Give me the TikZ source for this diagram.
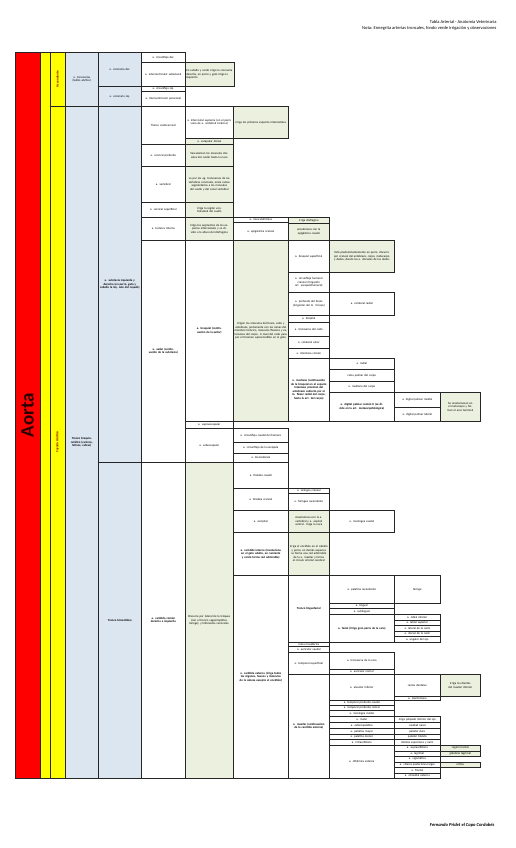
\documentclass[tikz,border=0pt]{standalone}
\usepackage{fontspec}
\setmainfont{Carlito}
\definecolor{azul}{HTML}{DCE6F1}
\definecolor{verde}{HTML}{EBF1DE}
\definecolor{rojo}{HTML}{FF0000}
\definecolor{amarillo}{HTML}{FFFF00}
\newcommand{\celda}[7]{%
  \pgfmathsetmacro{\anchotexto}{#4-2}%
  \node[#6, minimum width=#4pt, minimum height=#5pt, text width=\anchotexto pt, anchor=north west] (#1) at (#2,#3) {#7};}
\begin{document}
\begin{tikzpicture}[x=1pt,y=-1pt,
  caja/.style={draw=black!85, line width=0.6pt, inner xsep=0.5pt, inner ysep=0.2pt, align=center, font=\fontsize{3}{3.5}\selectfont},
  celdablanca/.style={caja, fill=white},
  celdaazul/.style={caja, fill=azul},
  celdaverde/.style={caja, fill=verde},
  tronco/.style={font=\fontsize{3}{3.5}\selectfont\bfseries},
  rotulo/.style={rotate=90, font=\fontsize{3.4}{4}\selectfont\bfseries, text=red!55!black}]
\useasboundingbox (0,0) rectangle (515,848);
\fill[white] (0,0) rectangle (515,848);

\node[anchor=east, font=\fontsize{4.5}{5}\selectfont] (titulo) at (500,21.7) {Tabla Arterial - Anatomía Veterinaria};
\node[anchor=east, font=\fontsize{4.5}{5}\selectfont] (nota) at (500,28.3) {Nota: Ennegrita arterias troncales, fondo verde irrigación y observaciones};

\filldraw[fill=rojo, draw=black!85, line width=0.6pt] (15,52) rectangle (40,778);
\filldraw[fill=amarillo, draw=black!85, line width=0.6pt] (40,52) rectangle (50,778);
\filldraw[fill=amarillo, draw=black!85, line width=0.6pt] (50,52) rectangle (65,106);
\filldraw[fill=amarillo, draw=black!85, line width=0.6pt] (50,106) rectangle (65,778);
\node[rotate=90, font=\fontsize{19}{20}\selectfont\bfseries, text=black!85!red] (aorta) at (27.5,415) {Aorta};
\node[rotulo] (ascendente) at (57.5,79) {Ascendente};
\node[rotulo] (cayado) at (57.5,442) {Cayado Aórtico};

% Aorta ascendente
\celda{coronarias}{65}{52}{33}{54}{celdaazul}{a. Coronarias (bulbo aórtico)}
\celda{corder}{98}{52}{43}{34}{celdaazul}{a. coronaria der.}
\celda{corizq}{98}{86}{43}{20}{celdaazul}{a. coronaria izq.}
\celda{circder}{141}{52}{44}{10}{celdablanca}{a. circunfleja der.}
\celda{subsinusal}{141}{62}{44}{24}{celdablanca}{a. interventricular subsinusal}
\celda{circizq}{141}{86}{44}{5}{celdablanca}{a. circunfleja izq.}
\celda{paraconal}{141}{91}{44}{15}{celdablanca}{a. interventricular paraconal}
\celda{irrcor}{185}{62}{49}{24}{celdaverde,align=left}{En caballo y cerdo irriga la coronaria derecha, en perro y gato irriga la izquierda}

% Cayado aortico
\celda{braquiocef}{65}{106}{33}{672}{celdaazul,tronco}{Tronco braquiocefálico (caninos, felinos, cabras)}
\celda{subclavia}{98}{106}{43}{356}{celdaazul,tronco}{a. subclavia izquierda y derecha (en perro, gato y caballo la izq. sale del cayado)}
\celda{bicarotideo}{98}{462}{43}{316}{celdaazul,tronco}{Tronco bicarotídeo}

\celda{costocervical}{141}{106}{44}{38}{celdablanca}{Tronco costocervical}
\celda{intsuprema}{185}{106}{48}{32}{celdablanca}{a. intercostal suprema (en el perro varía de a. vertebral torácica)}
\celda{irrintsup}{233}{106}{55}{32}{celdaverde}{irriga los primeros espacios intercostales}
\celda{escdorsal}{185}{138}{48}{6}{celdaverde}{a. escapular dorsal}
\celda{cervprof}{141}{144}{44}{22}{celdablanca}{a. cervical profunda}
\celda{irrcervprof}{185}{144}{48}{22}{celdaverde}{Vascularizan los músculos dorsales del cuello hasta la nuca}
\celda{vertebral}{141}{166}{44}{36}{celdablanca}{a. vertebral}
\celda{irrvertebral}{185}{166}{48}{36}{celdaverde}{va por los ag. transversos de las vértebras cervicales, envía ramas segmentarias a los músculos del cuello y del canal vertebral}
\celda{cervsup}{141}{202}{44}{15}{celdablanca}{a. cervical superficial}
\celda{irrcervsup}{185}{202}{48}{15}{celdaverde}{irriga la región ventrolateral del cuello}
\celda{torinterna}{141}{217}{44}{23}{celdablanca}{a. torácica interna}
\celda{irrtorint}{185}{217}{48}{23}{celdaverde}{irriga los segmentos de los espacios intercostales y se divide a la altura del diafragma}
\celda{musculofren}{233}{217}{55}{5}{celdablanca}{a. musculofrénica}
\celda{irrmusculofren}{288}{217}{41}{6}{celdaverde}{irriga diafragma}
\celda{epigcraneal}{233}{222}{55}{18}{celdablanca}{a. epigástrica craneal}
\celda{irrepig}{288}{223}{41}{17}{celdaverde}{anastomosa con la epigástrica caudal}

\celda{axilar}{141}{240}{44}{222}{celdablanca,tronco}{a. axilar (continuación de la subclavia)}
\celda{braquial}{185}{240}{48}{181}{celdablanca,tronco}{a. braquial (continuación de la axilar)}
\celda{irrbraquial}{233}{240}{55}{181}{celdaverde}{Irrigan los músculos del brazo, codo y antebrazo, juntamente con las ramas del miembro torácico, músculos flexores y extensores del carpo. A nivel del codo pasa por el foramen supracondíleo en el gato.}
\celda{braqsup}{288}{240}{41}{32}{celdablanca}{a. braquial superficial}
\celda{irrbraqsup}{329}{240}{65}{32}{celdaverde}{Está predominantemente en perro, discurre por craneal del antebrazo, carpo, metacarpo y dedos, dando las a. dorsales de los dedos}
\celda{circhumcr}{288}{272}{41}{20}{celdablanca}{a. circunfleja humeral craneal (irrigación art. escapulohumeral)}
\celda{profbrazo}{288}{292}{41}{23}{celdablanca}{a. profunda del brazo (irrigación del m. tríceps)}
\celda{colradial}{329}{292}{65}{23}{celdablanca}{a. colateral radial}
\celda{bicipital}{288}{315}{41}{7}{celdablanca}{a. bicipital}
\celda{transvcodo}{288}{322}{41}{14}{celdablanca}{a. transversa del codo}
\celda{colulnar}{288}{336}{41}{12}{celdablanca}{a. colateral ulnar}
\celda{interosea}{288}{348}{41}{10}{celdablanca}{a. interósea común}
\celda{mediana}{288}{358}{41}{63}{celdablanca,tronco}{a. mediana (continuación de la braquial en el espacio interóseo proximal del antebrazo cubierto por el m. flexor radial del carpo, hasta la art. del carpo)}
\celda{radial}{329}{358}{65}{11}{celdablanca}{a. radial}
\celda{palmarcarpo}{329}{369}{65}{12}{celdablanca}{rama palmar del carpo}
\celda{medcarpo}{329}{381}{65}{11}{celdablanca}{a. mediana del carpo}
\celda{digcomun}{329}{392}{65}{29}{celdablanca,tronco}{a. digital palmar común II (se divide en la art. metacarpofalángica)}
\celda{digmedial}{394}{392}{46}{15}{celdablanca}{a. digital palmar medial}
\celda{diglateral}{394}{407}{46}{14}{celdablanca}{a. digital palmar lateral}
\celda{arco}{440}{392}{40}{29}{celdaverde}{Se anastomosan en el metacarpo y forman el arco terminal}
\celda{supraesc}{185}{421}{48}{7}{celdablanca}{a. supraescapular}
\celda{subesc}{185}{428}{48}{34}{celdablanca}{a. subescapular}
\celda{circhumcd}{233}{428}{55}{14}{celdablanca}{a. circunfleja caudal del húmero}
\celda{circesc}{233}{442}{55}{11}{celdablanca}{a. circunfleja de la escápula}
\celda{toracodorsal}{233}{453}{55}{9}{celdablanca}{a. toracodorsal}

\celda{carcomun}{141}{462}{44}{316}{celdablanca,tronco}{a. carótida común derecha e izquierda}
\celda{irrcarcomun}{185}{462}{48}{316}{celdaverde}{Discurre por lateral de la tráquea (con el tronco vagosimpático, laringe), y linfonodos cervicales.}
\celda{tirocaudal}{233}{462}{55}{26}{celdablanca}{a. tiroidea caudal}
\celda{tirocraneal}{233}{488}{55}{22}{celdablanca}{a. tiroidea craneal}
\celda{laringea}{288}{488}{41}{5}{celdablanca}{a. laríngea craneal}
\celda{faringea}{288}{493}{41}{17}{celdablanca}{a. faríngea ascendente}
\celda{occipital}{233}{510}{55}{22}{celdablanca}{a. occipital}
\celda{irroccipital}{288}{510}{41}{22}{celdaverde}{Anastomosa con la a. vertebral y a. espinal ventral. Irriga la nuca}
\celda{meningcaudal}{329}{510}{65}{22}{celdablanca}{a. meníngea caudal}
\celda{carinterna}{233}{532}{55}{43}{celdablanca,tronco}{a. carótida interna (involuciona en el gato adulto, en rumiante y cerdo forma red admirable)}
\celda{irrcarinterna}{288}{532}{41}{43}{celdaverde}{Irriga el encéfalo en el caballo y perro, en demás especies se forma una red admirable de la a. maxilar y forma el círculo arterial cerebral}
\celda{carexterna}{233}{575}{55}{203}{celdablanca,tronco}{a. carótida externa (irriga todos los órganos, huesos y músculos de la cabeza excepto el encéfalo)}

\celda{linguofacial}{288}{575}{41}{67}{celdablanca,tronco}{Tronco linguofacial}
\celda{palatasc}{329}{575}{65}{28}{celdablanca}{a. palatina ascendente}
\celda{faringe}{394}{575}{46}{28}{celdablanca}{faringe}
\celda{lingual}{329}{603}{65}{5}{celdablanca}{a. lingual}
\celda{sublingual}{329}{608}{65}{6}{celdablanca}{a. sublingual}
\celda{facial}{329}{614}{65}{28}{celdablanca,tronco}{a. facial (irriga gran parte de la cara)}
\celda{labinf}{394}{614}{46}{5.6}{celdablanca}{a. labial inferior}
\celda{labsup}{394}{619.6}{46}{5.6}{celdablanca}{a. labial superior}
\celda{latnariz}{394}{625.2}{46}{5.6}{celdablanca}{a. lateral de la nariz}
\celda{dornariz}{394}{630.8}{46}{5.6}{celdablanca}{a. dorsal de la nariz}
\celda{angojo}{394}{636.4}{46}{5.6}{celdablanca}{a. angular del ojo}
\celda{maseterica}{288}{642}{41}{4}{celdablanca}{rama masetérica}
\celda{auricaudal}{288}{646}{41}{6}{celdablanca}{a. auricular caudal}
\celda{tempsup}{288}{652}{41}{22}{celdablanca}{a. temporal superficial}
\celda{transvcara}{329}{652}{65}{17}{celdablanca}{a. transversa de la cara}
\celda{aurirostral}{329}{669}{65}{5}{celdablanca}{a. auricular rostral}

\celda{maxilar}{288}{674}{41}{104}{celdablanca,tronco}{a. maxilar (continuación de la carótida externa)}
\celda{alvinf}{329}{674}{65}{26}{celdablanca}{a. alveolar inferior}
\celda{dentales}{394}{674}{46}{22}{celdablanca}{ramos dentales}
\celda{irrdentales}{440}{674}{40}{22}{celdaverde}{Irriga los dientes del maxilar inferior}
\celda{mentoniana}{394}{696}{46}{4}{celdablanca}{a. mentoniana}
\celda{tempcaudal}{329}{700}{65}{5}{celdablanca}{a. temporal profunda caudal}
\celda{temprostral}{329}{705}{65}{5}{celdablanca}{a. temporal profunda rostral}
\celda{meningmedia}{329}{710}{65}{6}{celdablanca}{a. meníngea media}
\celda{malar}{329}{716}{65}{6}{celdablanca}{a. malar}
\celda{irrmalar}{394}{716}{46}{6}{celdablanca}{irriga párpado inferior del ojo}
\celda{esfenopal}{329}{722}{65}{6}{celdablanca}{a. esfenopalatina}
\celda{irresfenopal}{394}{722}{46}{6}{celdablanca}{cavidad nasal}
\celda{palmayor}{329}{728}{65}{6}{celdablanca}{a. palatina mayor}
\celda{irrpalmayor}{394}{728}{46}{6}{celdablanca}{paladar duro}
\celda{palmenor}{329}{734}{65}{5}{celdablanca}{a. palatina menor}
\celda{irrpalmenor}{394}{734}{46}{5}{celdablanca}{paladar blando}
\celda{infraorb}{329}{739}{65}{6}{celdablanca}{a. infraorbitaria}
\celda{irrinfraorb}{394}{739}{46}{6}{celdablanca}{dientes superiores y nariz}
\celda{oftexterna}{329}{745}{65}{33}{celdablanca}{a. oftálmica externa}
\celda{supraorb}{394}{745}{46}{5.5}{celdablanca}{a. supraorbitaria}
\celda{lagrimal}{394}{750.5}{46}{5.5}{celdablanca}{a. lagrimal}
\celda{cigomatica}{394}{756}{46}{5.5}{celdablanca}{a. cigomática}
\celda{ciliares}{394}{761.5}{46}{5.5}{celdablanca}{a. ciliares posteriores largas}
\celda{frontal}{394}{767}{46}{5.5}{celdablanca}{a. frontal}
\celda{etmoidal}{394}{772.5}{46}{5.5}{celdablanca}{a. etmoidal externa}
\celda{irrsupraorb}{440}{745}{40}{5.5}{celdaverde}{región frontal}
\celda{irrlagrimal}{440}{750.5}{40}{5.5}{celdaverde}{glándula lagrimal}
\celda{irrciliares}{440}{761.5}{40}{5.5}{celdaverde}{retina}

\node[anchor=east, font=\fontsize{4.6}{5}\selectfont\bfseries\itshape] (firma) at (498,825) {Fernando Pridet el Capo Cordobés};
\end{tikzpicture}
\end{document}
